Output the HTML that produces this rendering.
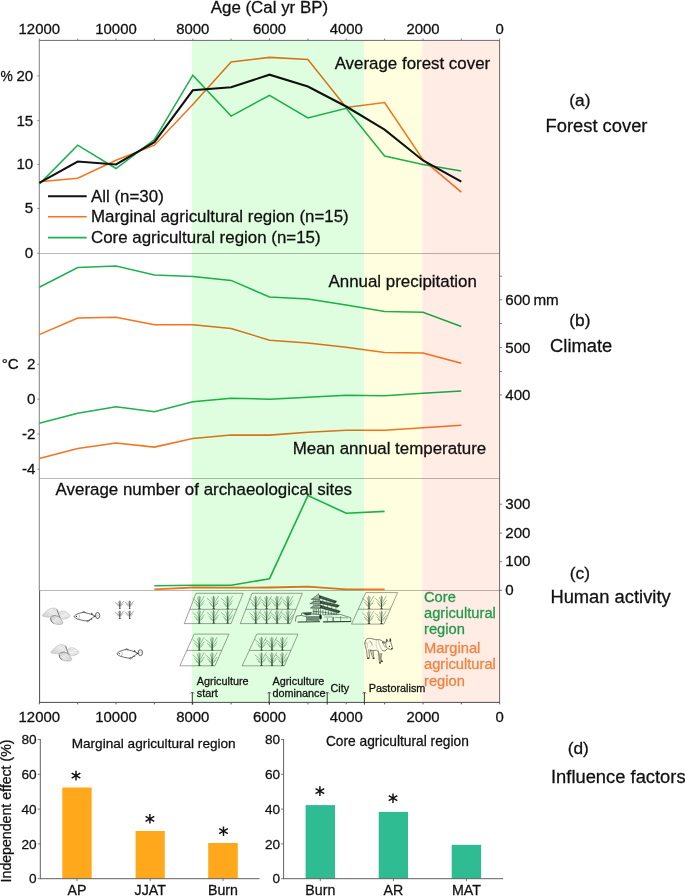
<!DOCTYPE html>
<html><head><meta charset="utf-8"><title>Figure</title>
<style>
html,body{margin:0;padding:0;background:#fff;}
body{width:685px;height:896px;overflow:hidden;}
svg{display:block;will-change:transform;}
text{font-family:"Liberation Sans",sans-serif;fill:#111;stroke:#111;stroke-width:0.28px;}
</style></head><body>
<svg width="685" height="896" viewBox="0 0 685 896">
<rect width="685" height="896" fill="#fff"/>

<!--BANDS_BG-->
<line x1="39.3" x2="499.7" y1="253.5" y2="253.5" stroke="#b8b8b8" stroke-width="1"/>
<line x1="39.3" x2="499.7" y1="478.5" y2="478.5" stroke="#b8b8b8" stroke-width="1"/>
<line x1="39.3" x2="499.7" y1="590.5" y2="590.5" stroke="#b8b8b8" stroke-width="1"/>
<line x1="39" x2="500" y1="40.4" y2="40.4" stroke="#6c6c6c" stroke-width="1"/>
<line x1="39" x2="500" y1="702.4" y2="702.4" stroke="#4c4c4c" stroke-width="1"/>
<line x1="39.3" x2="39.3" y1="40" y2="590.5" stroke="#8a8a8a" stroke-width="1.1"/>
<line x1="39.6" x2="39.6" y1="590.5" y2="703" stroke="#4c4c4c" stroke-width="1"/>
<line x1="499.6" x2="499.6" y1="40" y2="703" stroke="#666" stroke-width="0.95"/>
<line x1="499.7" x2="499.7" y1="38.6" y2="40" stroke="#6c6c6c" stroke-width="0.9"/>
<line x1="499.7" x2="499.7" y1="702.9" y2="704.4" stroke="#4c4c4c" stroke-width="0.9"/>
<text x="499.7" y="34.4" font-size="14.9" text-anchor="middle">0</text>
<text x="499.7" y="722.0" font-size="14.9" text-anchor="middle">0</text>
<line x1="461.3" x2="461.3" y1="38.6" y2="40" stroke="#6c6c6c" stroke-width="0.9"/>
<line x1="461.3" x2="461.3" y1="702.9" y2="704.4" stroke="#4c4c4c" stroke-width="0.9"/>
<line x1="423.0" x2="423.0" y1="38.6" y2="40" stroke="#6c6c6c" stroke-width="0.9"/>
<line x1="423.0" x2="423.0" y1="702.9" y2="704.4" stroke="#4c4c4c" stroke-width="0.9"/>
<text x="423.0" y="34.4" font-size="14.9" text-anchor="middle">2000</text>
<text x="423.0" y="722.0" font-size="14.9" text-anchor="middle">2000</text>
<line x1="384.6" x2="384.6" y1="38.6" y2="40" stroke="#6c6c6c" stroke-width="0.9"/>
<line x1="384.6" x2="384.6" y1="702.9" y2="704.4" stroke="#4c4c4c" stroke-width="0.9"/>
<line x1="346.2" x2="346.2" y1="38.6" y2="40" stroke="#6c6c6c" stroke-width="0.9"/>
<line x1="346.2" x2="346.2" y1="702.9" y2="704.4" stroke="#4c4c4c" stroke-width="0.9"/>
<text x="346.2" y="34.4" font-size="14.9" text-anchor="middle">4000</text>
<text x="346.2" y="722.0" font-size="14.9" text-anchor="middle">4000</text>
<line x1="307.9" x2="307.9" y1="38.6" y2="40" stroke="#6c6c6c" stroke-width="0.9"/>
<line x1="307.9" x2="307.9" y1="702.9" y2="704.4" stroke="#4c4c4c" stroke-width="0.9"/>
<line x1="269.5" x2="269.5" y1="38.6" y2="40" stroke="#6c6c6c" stroke-width="0.9"/>
<line x1="269.5" x2="269.5" y1="702.9" y2="704.4" stroke="#4c4c4c" stroke-width="0.9"/>
<text x="269.5" y="34.4" font-size="14.9" text-anchor="middle">6000</text>
<text x="269.5" y="722.0" font-size="14.9" text-anchor="middle">6000</text>
<line x1="231.1" x2="231.1" y1="38.6" y2="40" stroke="#6c6c6c" stroke-width="0.9"/>
<line x1="231.1" x2="231.1" y1="702.9" y2="704.4" stroke="#4c4c4c" stroke-width="0.9"/>
<line x1="192.8" x2="192.8" y1="38.6" y2="40" stroke="#6c6c6c" stroke-width="0.9"/>
<line x1="192.8" x2="192.8" y1="702.9" y2="704.4" stroke="#4c4c4c" stroke-width="0.9"/>
<text x="192.8" y="34.4" font-size="14.9" text-anchor="middle">8000</text>
<text x="192.8" y="722.0" font-size="14.9" text-anchor="middle">8000</text>
<line x1="154.4" x2="154.4" y1="38.6" y2="40" stroke="#6c6c6c" stroke-width="0.9"/>
<line x1="154.4" x2="154.4" y1="702.9" y2="704.4" stroke="#4c4c4c" stroke-width="0.9"/>
<line x1="116.0" x2="116.0" y1="38.6" y2="40" stroke="#6c6c6c" stroke-width="0.9"/>
<line x1="116.0" x2="116.0" y1="702.9" y2="704.4" stroke="#4c4c4c" stroke-width="0.9"/>
<text x="116.0" y="34.4" font-size="14.9" text-anchor="middle">10000</text>
<text x="116.0" y="722.0" font-size="14.9" text-anchor="middle">10000</text>
<line x1="77.7" x2="77.7" y1="38.6" y2="40" stroke="#6c6c6c" stroke-width="0.9"/>
<line x1="77.7" x2="77.7" y1="702.9" y2="704.4" stroke="#4c4c4c" stroke-width="0.9"/>
<line x1="39.3" x2="39.3" y1="38.6" y2="40" stroke="#6c6c6c" stroke-width="0.9"/>
<line x1="39.3" x2="39.3" y1="702.9" y2="704.4" stroke="#4c4c4c" stroke-width="0.9"/>
<text x="39.3" y="34.4" font-size="14.9" text-anchor="middle">12000</text>
<text x="39.3" y="722.0" font-size="14.9" text-anchor="middle">12000</text>
<text x="269.4" y="12.8" font-size="16.9" text-anchor="middle">Age (Cal yr BP)</text>
<line x1="37.4" x2="39.3" y1="75.9" y2="75.9" stroke="#777" stroke-width="0.9"/>
<text x="33.2" y="80.8" font-size="15.1" text-anchor="end">20</text>
<line x1="37.4" x2="39.3" y1="120.7" y2="120.7" stroke="#777" stroke-width="0.9"/>
<text x="33.2" y="125.6" font-size="15.1" text-anchor="end">15</text>
<line x1="37.4" x2="39.3" y1="164.4" y2="164.4" stroke="#777" stroke-width="0.9"/>
<text x="33.2" y="169.3" font-size="15.1" text-anchor="end">10</text>
<line x1="37.4" x2="39.3" y1="208.5" y2="208.5" stroke="#777" stroke-width="0.9"/>
<text x="33.2" y="213.4" font-size="15.1" text-anchor="end">5</text>
<line x1="37.4" x2="39.3" y1="253.2" y2="253.2" stroke="#777" stroke-width="0.9"/>
<text x="33.2" y="258.1" font-size="15.1" text-anchor="end">0</text>
<text x="0.5" y="80.9" font-size="13.8">%</text>
<line x1="37.4" x2="39.3" y1="364.3" y2="364.3" stroke="#777" stroke-width="0.9"/>
<text x="35.5" y="368.6" font-size="15.1" text-anchor="end">2</text>
<line x1="37.4" x2="39.3" y1="399.2" y2="399.2" stroke="#777" stroke-width="0.9"/>
<text x="35.5" y="404.4" font-size="15.1" text-anchor="end">0</text>
<line x1="37.4" x2="39.3" y1="434.1" y2="434.1" stroke="#777" stroke-width="0.9"/>
<text x="35.5" y="439.3" font-size="15.1" text-anchor="end">-2</text>
<line x1="37.4" x2="39.3" y1="469.2" y2="469.2" stroke="#777" stroke-width="0.9"/>
<text x="35.5" y="474.4" font-size="15.1" text-anchor="end">-4</text>
<text x="1.8" y="368.6" font-size="15.1">°C</text>
<line x1="499.7" x2="502.09999999999997" y1="276.2" y2="276.2" stroke="#606060" stroke-width="0.8"/>
<line x1="499.7" x2="502.09999999999997" y1="299.8" y2="299.8" stroke="#606060" stroke-width="0.8"/>
<line x1="499.7" x2="502.09999999999997" y1="323.5" y2="323.5" stroke="#606060" stroke-width="0.8"/>
<line x1="499.7" x2="502.09999999999997" y1="347.5" y2="347.5" stroke="#606060" stroke-width="0.8"/>
<line x1="499.7" x2="502.09999999999997" y1="371.5" y2="371.5" stroke="#606060" stroke-width="0.8"/>
<line x1="499.7" x2="502.09999999999997" y1="394.9" y2="394.9" stroke="#606060" stroke-width="0.8"/>
<text x="505.3" y="304.8" font-size="15.1">600</text>
<text x="505.3" y="352.5" font-size="15.1">500</text>
<text x="505.3" y="399.6" font-size="15.1">400</text>
<text x="533.4" y="304.6" font-size="15.2">mm</text>
<line x1="499.7" x2="502.09999999999997" y1="504.2" y2="504.2" stroke="#606060" stroke-width="0.8"/>
<text x="505.3" y="508.6" font-size="15.1">300</text>
<line x1="499.7" x2="502.09999999999997" y1="533.0999999999999" y2="533.0999999999999" stroke="#606060" stroke-width="0.8"/>
<text x="505.3" y="537.5" font-size="15.1">200</text>
<line x1="499.7" x2="502.09999999999997" y1="561.6999999999999" y2="561.6999999999999" stroke="#606060" stroke-width="0.8"/>
<text x="505.3" y="566.1" font-size="15.1">100</text>
<line x1="499.7" x2="502.09999999999997" y1="590.3" y2="590.3" stroke="#606060" stroke-width="0.8"/>
<text x="505.3" y="594.7" font-size="15.1">0</text>
<polyline points="39.3,181.8 77.7,178.3 116.0,160.3 154.4,145.2 192.8,104.5 231.1,62.1 269.5,57.4 307.9,59.4 346.2,107.5 384.6,102.5 423.0,159.8 461.3,192.1" fill="none" stroke="#f5741d" stroke-width="1.55" stroke-linejoin="miter" stroke-linecap="butt" />
<polyline points="39.3,184.1 77.7,145.2 116.0,168.5 154.4,139.7 192.8,75.2 231.1,116.1 269.5,95.3 307.9,117.9 346.2,108.3 384.6,156.0 423.0,164.6 461.3,171.1" fill="none" stroke="#1db14f" stroke-width="1.55" stroke-linejoin="miter" stroke-linecap="butt" />
<polyline points="39.3,182.9 77.7,161.5 116.0,164.5 154.4,142.2 192.8,90.3 231.1,87.2 269.5,74.7 307.9,86.5 346.2,106.5 384.6,129.6 423.0,160.5 461.3,181.6" fill="none" stroke="#111" stroke-width="2.05" stroke-linejoin="miter" stroke-linecap="butt" />
<line x1="48.0" x2="86.7" y1="196.2" y2="196.2" stroke="#111" stroke-width="2.05"/>
<text x="91.0" y="201.8" font-size="16.9">All (n=30)</text>
<line x1="48.0" x2="86.7" y1="216.8" y2="216.8" stroke="#f5741d" stroke-width="1.55"/>
<text x="91.0" y="222.4" font-size="16.9">Marginal agricultural region (n=15)</text>
<line x1="48.0" x2="86.7" y1="237.6" y2="237.6" stroke="#1db14f" stroke-width="1.55"/>
<text x="91.0" y="243.2" font-size="16.9">Core agricultural region (n=15)</text>
<text x="490.2" y="68.8" font-size="16.9" text-anchor="end">Average forest cover</text>
<polyline points="39.3,287.2 77.7,267.6 116.0,266.1 154.4,275.1 192.8,276.6 231.1,280.4 269.5,297.0 307.9,299.0 346.2,305.0 384.6,311.5 423.0,312.3 461.3,326.6" fill="none" stroke="#1db14f" stroke-width="1.55" stroke-linejoin="miter" stroke-linecap="butt" />
<polyline points="39.3,334.6 77.7,318.1 116.0,317.3 154.4,324.8 192.8,324.8 231.1,328.4 269.5,340.2 307.9,342.9 346.2,347.3 384.6,352.5 423.0,353.0 461.3,363.3" fill="none" stroke="#f5741d" stroke-width="1.55" stroke-linejoin="miter" stroke-linecap="butt" />
<polyline points="39.3,423.3 77.7,413.2 116.0,406.7 154.4,411.7 192.8,401.7 231.1,398.2 269.5,399.2 307.9,397.2 346.2,395.2 384.6,395.7 423.0,393.2 461.3,390.9" fill="none" stroke="#1db14f" stroke-width="1.55" stroke-linejoin="miter" stroke-linecap="butt" />
<polyline points="39.3,458.4 77.7,448.4 116.0,443.1 154.4,447.1 192.8,438.6 231.1,435.1 269.5,435.1 307.9,432.3 346.2,430.3 384.6,430.3 423.0,427.8 461.3,425.3" fill="none" stroke="#f5741d" stroke-width="1.55" stroke-linejoin="miter" stroke-linecap="butt" />
<text x="476.9" y="286.5" font-size="16.9" text-anchor="end">Annual precipitation</text>
<text x="486.2" y="454.3" font-size="16.9" text-anchor="end">Mean annual temperature</text>
<polyline points="154.4,589.3 192.8,587.5 231.1,587.7 269.5,587.5 307.9,586.7 346.2,589.3 384.6,589.3" fill="none" stroke="#f5741d" stroke-width="1.8" stroke-linejoin="miter" stroke-linecap="butt" />
<polyline points="154.4,585.7 192.8,585.2 231.1,585.2 269.5,578.7 307.9,495.6 346.2,513.2 384.6,511.4" fill="none" stroke="#1db14f" stroke-width="1.6" stroke-linejoin="miter" stroke-linecap="butt" />
<text x="55.6" y="495.2" font-size="16.9">Average number of archaeological sites</text>
<rect x="191.8" y="41.0" width="172.2" height="661.0" fill="#dffedf" style="mix-blend-mode:multiply"/>
<rect x="364.0" y="41.0" width="58.3" height="661.0" fill="#ffffe0" style="mix-blend-mode:multiply"/>
<rect x="422.3" y="41.0" width="77.4" height="661.0" fill="#ffece5" style="mix-blend-mode:multiply"/>
<defs>
<g id="rice" fill="none" stroke="#3d6044" stroke-width="0.45" stroke-linecap="round">
<path d="M0 0 L-0.2 -12.4" stroke-width="0.65" stroke="#2c5233"/>
<path d="M0 0 L0 -5" stroke-width="0.9" stroke="#2c5233"/>
<path d="M0 -4.5 Q2.6 -8.5 4.7 -12.3"/><path d="M0 -2.6 Q2.6 -5.4 4.8 -7.9"/><path d="M0 -1.3 L3.8 -5.2"/>
<path d="M0 -4.5 Q-3.4 -7.8 -6.4 -10.2"/><path d="M0 -2.3 Q-2.5 -4.6 -4.7 -6.3"/><path d="M0 -1.2 L-3.2 -4.0"/>
<path d="M0 -4.5 L1.1 -11.5"/><path d="M0 -5 L-1.9 -11.0"/>
<ellipse cx="0" cy="0.15" rx="1.5" ry="0.5" fill="#2c5233" stroke="none"/>
</g>
<g id="wild" fill="none" stroke="#505050" stroke-width="0.45" stroke-linecap="round">
<path d="M0 0 L0 -7.4" stroke-width="0.8" stroke="#3a3a3a"/>
<path d="M0 -2.8 L3.9 -7.3"/><path d="M0 -1.8 L3.2 -4.8"/>
<path d="M0 -2.8 L-4.6 -6.2"/><path d="M0 -1.6 L-3.0 -4.0"/>
<path d="M0 -3 L0.9 -7.0"/><path d="M0 -3 L-1.5 -6.8"/>
<ellipse cx="0" cy="0.1" rx="1.2" ry="0.45" fill="#3a3a3a" stroke="none"/>
</g>
<linearGradient id="sg1" x1="0" y1="1" x2="1" y2="0"><stop offset="0" stop-color="#cfcfcf"/><stop offset="0.6" stop-color="#f3f3f3"/><stop offset="1" stop-color="#e2e2e2"/></linearGradient>
<linearGradient id="sg2" x1="0" y1="0" x2="1" y2="1"><stop offset="0" stop-color="#dedede"/><stop offset="0.5" stop-color="#f6f6f6"/><stop offset="1" stop-color="#d4d4d4"/></linearGradient>
<linearGradient id="sg3" x1="0" y1="0" x2="1" y2="1"><stop offset="0" stop-color="#bdbdbd"/><stop offset="0.45" stop-color="#efefef"/><stop offset="1" stop-color="#d0d0d0"/></linearGradient>
<g id="shells"><path d="M42.44 615.81 C42.23 615.14 43.62 613.88 44.50 612.92 C45.37 611.96 46.53 610.81 47.71 610.03 C48.88 609.25 50.22 608.50 51.56 608.23 C52.90 607.96 54.69 608.07 55.74 608.42 C56.78 608.78 57.59 609.55 57.85 610.35 C58.12 611.15 57.85 612.33 57.34 613.24 C56.83 614.15 55.95 615.17 54.77 615.81 C53.59 616.45 51.77 616.91 50.28 617.09 C48.78 617.28 47.09 617.11 45.78 616.90 C44.47 616.69 42.65 616.47 42.44 615.81Z" fill="url(#sg1)" stroke="#9c9c9c" stroke-width="0.4"/><path d="M43.85 615.17 L54.77 608.94" stroke="#bdbdbd" stroke-width="0.35" fill="none"/><path d="M46.10 616.26 L56.83 609.84" stroke="#bdbdbd" stroke-width="0.35" fill="none"/><path d="M49.63 616.64 L57.47 611.63" stroke="#bdbdbd" stroke-width="0.35" fill="none"/><path d="M43.34 614.20 L50.92 608.74" stroke="#bdbdbd" stroke-width="0.35" fill="none"/><path d="M58.75 613.24 C59.08 612.49 60.20 611.63 61.19 611.31 C62.19 610.99 63.55 610.99 64.73 611.31 C65.90 611.63 67.35 612.49 68.26 613.24 C69.17 613.99 70.29 615.01 70.19 615.81 C70.08 616.61 68.69 617.49 67.62 618.06 C66.55 618.62 64.94 619.16 63.76 619.21 C62.59 619.27 61.30 618.94 60.55 618.38 C59.80 617.81 59.57 616.66 59.27 615.81 C58.97 614.95 58.43 613.99 58.75 613.24Z" fill="url(#sg2)" stroke="#a2a2a2" stroke-width="0.4"/><path d="M59.59 614.85 L69.22 614.85" stroke="#c4c4c4" stroke-width="0.35" fill="none"/><path d="M59.59 616.45 L68.26 617.41" stroke="#c4c4c4" stroke-width="0.35" fill="none"/><path d="M59.91 613.56 L67.30 612.79" stroke="#c4c4c4" stroke-width="0.35" fill="none"/><path d="M60.55 617.74 L65.69 618.70" stroke="#c4c4c4" stroke-width="0.35" fill="none"/><path d="M50.28 618.06 C50.33 617.09 51.03 616.56 51.88 616.13 C52.74 615.70 54.18 615.33 55.41 615.49 C56.65 615.65 58.14 616.24 59.27 617.09 C60.39 617.95 61.57 619.56 62.16 620.63 C62.75 621.70 63.28 622.87 62.80 623.52 C62.32 624.16 60.61 624.43 59.27 624.48 C57.93 624.53 56.06 624.27 54.77 623.84 C53.49 623.41 52.31 622.87 51.56 621.91 C50.81 620.95 50.22 619.02 50.28 618.06Z" fill="url(#sg3)" stroke="#8e8e8e" stroke-width="0.45"/><path d="M52.85 616.45 L61.52 623.19" stroke="#b4b4b4" stroke-width="0.35" fill="none"/><path d="M54.77 615.81 L62.35 621.27" stroke="#b4b4b4" stroke-width="0.35" fill="none"/><path d="M51.56 617.74 L59.27 624.16" stroke="#b4b4b4" stroke-width="0.35" fill="none"/><path d="M50.92 619.66 L56.06 623.84" stroke="#b4b4b4" stroke-width="0.35" fill="none"/><path d="M57.02 609.58 C57.22 610.14 57.87 611.77 58.24 612.92 C58.61 614.06 58.86 615.57 59.27 616.45 C59.67 617.33 60.45 617.90 60.68 618.18" stroke="#4e4e4e" stroke-width="0.7" fill="none"/><path d="M50.66 618.18 C50.77 618.66 50.81 620.15 51.30 621.01 C51.80 621.87 53.23 622.94 53.62 623.32" stroke="#5a5a5a" stroke-width="0.7" fill="none"/><path d="M51.82 616.39 C52.42 616.24 54.22 615.40 55.41 615.49 C56.61 615.57 58.41 616.66 59.01 616.90" stroke="#777" stroke-width="0.5" fill="none"/></g>
<g id="fish"><path d="M81.85 612.79 L83.39 611.46 L85.33 612.18 L85.94 613.10" fill="#cfcfcf" stroke="#262626" stroke-width="0.5" stroke-linejoin="round"/><path d="M86.15 620.66 L87.63 621.83 L89.72 620.45 L88.80 619.84Z" fill="#e2e2e2" stroke="#262626" stroke-width="0.5" stroke-linejoin="round"/><path d="M74.09 616.67 C74.05 616.25 74.60 615.77 75.11 615.34 C75.62 614.92 76.30 614.50 77.15 614.12 C78.01 613.73 79.16 613.33 80.22 613.04 C81.28 612.76 82.43 612.42 83.54 612.43 C84.65 612.44 85.71 612.82 86.86 613.10 C88.01 613.37 89.42 613.73 90.44 614.07 C91.46 614.41 92.30 614.79 92.99 615.14 C93.69 615.49 94.67 615.74 94.63 616.16 C94.59 616.59 93.44 617.17 92.74 617.69 C92.04 618.22 91.42 618.80 90.44 619.33 C89.46 619.86 88.23 620.71 86.86 620.86 C85.50 621.02 83.71 620.52 82.26 620.25 C80.82 619.98 79.33 619.62 78.18 619.23 C77.03 618.84 76.05 618.32 75.37 617.90 C74.68 617.47 74.13 617.10 74.09 616.67Z" fill="#fff" stroke="#262626" stroke-width="0.68"/><ellipse cx="97.59" cy="615.50" rx="2.15" ry="3.0" fill="#f6f6f6" stroke="#262626" stroke-width="0.68"/><path d="M95.80 615.85 C96.10 615.77 97.00 615.49 97.59 615.34 C98.19 615.20 99.08 615.05 99.38 614.99" fill="none" stroke="#888" stroke-width="0.35"/><path d="M90.95 614.07 L91.97 613.10 L92.59 614.53Z" fill="#262626" stroke="#262626" stroke-width="0.4"/><path d="M90.59 619.23 L91.46 618.51 L91.97 619.33Z" fill="#262626" stroke="#262626" stroke-width="0.4"/><path d="M94.02 615.65 L95.45 616.16 L94.12 616.77Z" fill="#262626" stroke="#262626" stroke-width="0.4"/><circle cx="76.39" cy="616.42" r="0.62" fill="#111"/><path d="M78.58 614.48 C78.74 614.82 79.52 615.80 79.50 616.52 C79.49 617.24 78.65 618.44 78.48 618.82" fill="none" stroke="#666" stroke-width="0.45"/></g>
</defs>
<use href="#shells"/>
<use href="#shells" transform="translate(8.6,36.6)"/>
<use href="#fish"/>
<use href="#fish" transform="translate(42.8,37.2)"/>
<use href="#wild" x="119.8" y="608.5"/>
<use href="#wild" x="119.8" y="618.4"/>
<use href="#wild" x="129.7" y="608.5"/>
<use href="#wild" x="129.7" y="618.4"/>
<polygon points="196.0,593.3 243.1,593.3 231.1,623.6 184.3,623.6" fill="none" stroke="#4c4c4c" stroke-width="0.52"/><line x1="189.8" y1="609.3" x2="236.8" y2="609.3" stroke="#4c4c4c" stroke-width="0.52"/><use href="#rice" x="199.3" y="608.7"/><use href="#rice" x="213.7" y="608.7"/><use href="#rice" x="227.7" y="608.7"/><use href="#rice" x="199.3" y="622.9"/><use href="#rice" x="213.7" y="622.9"/><use href="#rice" x="227.7" y="622.9"/>
<polygon points="252.0,593.3 302.3,593.3 290.4,623.6 240.3,623.6" fill="none" stroke="#4c4c4c" stroke-width="0.52"/><line x1="245.8" y1="609.3" x2="296.0" y2="609.3" stroke="#4c4c4c" stroke-width="0.52"/><use href="#rice" x="255.8" y="608.7"/><use href="#rice" x="266.6" y="608.7"/><use href="#rice" x="277.1" y="608.7"/><use href="#rice" x="288.1" y="608.7"/><use href="#rice" x="255.8" y="622.9"/><use href="#rice" x="266.6" y="622.9"/><use href="#rice" x="277.1" y="622.9"/><use href="#rice" x="288.1" y="622.9"/>
<polygon points="194.1,634.1 228.9,634.1 215.0,665.8 179.9,665.8" fill="none" stroke="#4c4c4c" stroke-width="0.52"/><line x1="186.8" y1="650.4" x2="221.8" y2="650.4" stroke="#4c4c4c" stroke-width="0.52"/><use href="#rice" x="199.3" y="649.8"/><use href="#rice" x="212.2" y="649.8"/><use href="#rice" x="199.3" y="665.2"/><use href="#rice" x="212.2" y="665.2"/>
<polygon points="256.8,634.1 298.0,634.1 284.3,665.8 242.2,665.8" fill="none" stroke="#4c4c4c" stroke-width="0.52"/><line x1="249.3" y1="650.4" x2="291.0" y2="650.4" stroke="#4c4c4c" stroke-width="0.52"/><use href="#rice" x="261.5" y="649.8"/><use href="#rice" x="272.0" y="649.8"/><use href="#rice" x="282.4" y="649.8"/><use href="#rice" x="261.5" y="665.2"/><use href="#rice" x="272.0" y="665.2"/><use href="#rice" x="282.4" y="665.2"/>
<polygon points="365.8,592.6 397.6,592.6 383.9,624.1 351.5,624.1" fill="none" stroke="#4c4c4c" stroke-width="0.52"/><line x1="358.3" y1="609.2" x2="390.4" y2="609.2" stroke="#4c4c4c" stroke-width="0.52"/><use href="#rice" x="369.0" y="608.5"/><use href="#rice" x="381.5" y="608.5"/><use href="#rice" x="369.0" y="623.4"/><use href="#rice" x="381.5" y="623.4"/>
<g id="temple"><path d="M295.27 621.59 L296.30 616.17 L301.35 615.42 L306.49 616.73 L306.49 621.78" fill="none" fill-opacity="1" stroke="#12281a" stroke-width="0.55" stroke-linejoin="round"/><path d="M301.35 615.42 L301.72 612.99 L311.63 612.43 L312.19 614.86" fill="none" fill-opacity="1" stroke="#12281a" stroke-width="0.55" stroke-linejoin="round"/><path d="M303.21 613.18 L310.69 612.99 L311.16 614.49 L306.02 615.23Z" fill="#12281a" fill-opacity="0.8" stroke="#12281a" stroke-width="0.4" stroke-linejoin="round"/><path d="M307.14 617.29 L319.29 617.48" fill="none" fill-opacity="1" stroke="#12281a" stroke-width="0.5" stroke-linejoin="round"/><path d="M307.14 618.04 L319.29 618.22" fill="none" fill-opacity="1" stroke="#12281a" stroke-width="0.5" stroke-linejoin="round"/><path d="M307.14 618.79 L319.29 618.97" fill="none" fill-opacity="1" stroke="#12281a" stroke-width="0.5" stroke-linejoin="round"/><path d="M307.14 619.53 L319.29 619.72" fill="none" fill-opacity="1" stroke="#12281a" stroke-width="0.5" stroke-linejoin="round"/><path d="M307.14 620.28 L319.29 620.47" fill="none" fill-opacity="1" stroke="#12281a" stroke-width="0.5" stroke-linejoin="round"/><path d="M306.49 616.73 L320.04 616.36" fill="none" fill-opacity="1" stroke="#12281a" stroke-width="0.5" stroke-linejoin="round"/><ellipse cx="320.50" cy="616.92" rx="1.3" ry="2.7" fill="#12281a"/><path d="M322.84 614.86 L340.60 614.49 L350.88 617.85 L350.69 621.59 L322.84 621.78" fill="none" fill-opacity="1" stroke="#12281a" stroke-width="0.5" stroke-linejoin="round"/><path d="M333.12 616.92 L333.12 621.40" fill="none" fill-opacity="1" stroke="#12281a" stroke-width="0.9" stroke-linejoin="round"/><path d="M324.24 617.10 L332.19 616.92" fill="none" fill-opacity="1" stroke="#12281a" stroke-width="0.4" stroke-linejoin="round"/><path d="M334.52 617.29 L348.07 618.04" fill="none" fill-opacity="1" stroke="#12281a" stroke-width="0.4" stroke-linejoin="round"/><path d="M327.51 618.04 L327.51 621.40" fill="none" fill-opacity="1" stroke="#12281a" stroke-width="0.4" stroke-linejoin="round"/><path d="M340.60 616.17 L340.60 621.40" fill="none" fill-opacity="1" stroke="#12281a" stroke-width="0.4" stroke-linejoin="round"/><path d="M297.61 622.06 L320.04 621.68" fill="none" fill-opacity="1" stroke="#12281a" stroke-width="0.9" stroke-linejoin="round"/><path d="M323.31 621.96 L350.88 621.50" fill="none" fill-opacity="1" stroke="#12281a" stroke-width="0.8" stroke-linejoin="round"/><path d="M318.45 594.21 L311.44 599.35 L319.85 599.72 L319.29 595.42Z" fill="#bcd6be" fill-opacity="1" stroke="#12281a" stroke-width="0.55" stroke-linejoin="round"/><path d="M319.29 595.42 L335.93 601.03 L336.30 601.96 L334.80 602.90 L319.85 598.04Z" fill="#12281a" fill-opacity="0.9" stroke="#12281a" stroke-width="0.45" stroke-linejoin="round"/><path d="M313.31 601.59 L310.22 603.64 L320.22 604.02 L320.60 601.03Z" fill="#bcd6be" fill-opacity="1" stroke="#12281a" stroke-width="0.55" stroke-linejoin="round"/><path d="M320.60 601.03 L338.36 604.95 L338.92 606.07 L337.42 607.20 L320.22 603.27Z" fill="#12281a" fill-opacity="0.9" stroke="#12281a" stroke-width="0.45" stroke-linejoin="round"/><path d="M313.31 606.07 L310.69 608.04 L320.60 608.50 L320.97 605.51Z" fill="#bcd6be" fill-opacity="1" stroke="#12281a" stroke-width="0.55" stroke-linejoin="round"/><path d="M320.97 605.51 L339.29 610.75 L339.85 611.87 L338.36 612.99 L320.60 607.94Z" fill="#12281a" fill-opacity="0.9" stroke="#12281a" stroke-width="0.45" stroke-linejoin="round"/><path d="M321.16 597.10 L334.52 601.59" fill="none" fill-opacity="1" stroke="#b5d2b8" stroke-width="0.3" stroke-linejoin="round"/><path d="M321.72 602.34 L337.05 605.89" fill="none" fill-opacity="1" stroke="#b5d2b8" stroke-width="0.3" stroke-linejoin="round"/><path d="M322.09 607.01 L337.98 611.68" fill="none" fill-opacity="1" stroke="#b5d2b8" stroke-width="0.3" stroke-linejoin="round"/><path d="M322.84 599.16 L322.84 601.59" fill="none" fill-opacity="1" stroke="#12281a" stroke-width="0.4" stroke-linejoin="round"/><path d="M326.58 600.28 L326.58 602.34" fill="none" fill-opacity="1" stroke="#12281a" stroke-width="0.4" stroke-linejoin="round"/><path d="M330.32 601.59 L330.32 603.27" fill="none" fill-opacity="1" stroke="#12281a" stroke-width="0.4" stroke-linejoin="round"/><path d="M334.06 602.71 L334.06 604.02" fill="none" fill-opacity="1" stroke="#12281a" stroke-width="0.4" stroke-linejoin="round"/><path d="M323.31 604.02 L323.31 606.07" fill="none" fill-opacity="1" stroke="#12281a" stroke-width="0.4" stroke-linejoin="round"/><path d="M327.51 605.14 L327.51 607.38" fill="none" fill-opacity="1" stroke="#12281a" stroke-width="0.4" stroke-linejoin="round"/><path d="M331.72 606.07 L331.72 608.50" fill="none" fill-opacity="1" stroke="#12281a" stroke-width="0.4" stroke-linejoin="round"/><path d="M335.93 607.01 L335.93 609.81" fill="none" fill-opacity="1" stroke="#12281a" stroke-width="0.4" stroke-linejoin="round"/><path d="M315.36 597.01 L319.29 597.48" fill="none" fill-opacity="1" stroke="#12281a" stroke-width="0.35" stroke-linejoin="round"/><path d="M313.31 598.41 L319.66 598.79" fill="none" fill-opacity="1" stroke="#12281a" stroke-width="0.35" stroke-linejoin="round"/><path d="M312.09 602.71 L320.22 603.08" fill="none" fill-opacity="1" stroke="#12281a" stroke-width="0.35" stroke-linejoin="round"/><path d="M312.09 607.20 L320.60 607.57" fill="none" fill-opacity="1" stroke="#12281a" stroke-width="0.35" stroke-linejoin="round"/><path d="M311.44 599.35 L310.69 598.79" fill="none" fill-opacity="1" stroke="#12281a" stroke-width="0.5" stroke-linejoin="round"/><path d="M335.93 601.40 L336.86 600.84" fill="none" fill-opacity="1" stroke="#12281a" stroke-width="0.5" stroke-linejoin="round"/><path d="M310.22 603.64 L309.48 603.08" fill="none" fill-opacity="1" stroke="#12281a" stroke-width="0.5" stroke-linejoin="round"/><path d="M338.73 605.89 L339.66 605.33" fill="none" fill-opacity="1" stroke="#12281a" stroke-width="0.5" stroke-linejoin="round"/><path d="M310.69 608.04 L309.94 607.48" fill="none" fill-opacity="1" stroke="#12281a" stroke-width="0.5" stroke-linejoin="round"/><path d="M339.66 611.68 L340.60 611.21" fill="none" fill-opacity="1" stroke="#12281a" stroke-width="0.5" stroke-linejoin="round"/><path d="M313.68 600.09 L313.68 601.68" fill="none" fill-opacity="1" stroke="#12281a" stroke-width="0.5" stroke-linejoin="round"/><path d="M315.36 600.09 L315.36 601.68" fill="none" fill-opacity="1" stroke="#12281a" stroke-width="0.5" stroke-linejoin="round"/><path d="M317.05 600.09 L317.05 601.68" fill="none" fill-opacity="1" stroke="#12281a" stroke-width="0.5" stroke-linejoin="round"/><path d="M318.73 600.09 L318.73 601.68" fill="none" fill-opacity="1" stroke="#12281a" stroke-width="0.5" stroke-linejoin="round"/><path d="M320.04 600.09 L320.04 601.68" fill="none" fill-opacity="1" stroke="#12281a" stroke-width="0.5" stroke-linejoin="round"/><path d="M313.68 604.30 L313.68 606.07" fill="none" fill-opacity="1" stroke="#12281a" stroke-width="0.5" stroke-linejoin="round"/><path d="M315.36 604.30 L315.36 606.07" fill="none" fill-opacity="1" stroke="#12281a" stroke-width="0.5" stroke-linejoin="round"/><path d="M317.05 604.30 L317.05 606.07" fill="none" fill-opacity="1" stroke="#12281a" stroke-width="0.5" stroke-linejoin="round"/><path d="M318.73 604.30 L318.73 606.07" fill="none" fill-opacity="1" stroke="#12281a" stroke-width="0.5" stroke-linejoin="round"/><path d="M320.41 604.30 L320.41 606.07" fill="none" fill-opacity="1" stroke="#12281a" stroke-width="0.5" stroke-linejoin="round"/><path d="M313.31 608.79 L313.31 614.11" fill="none" fill-opacity="1" stroke="#12281a" stroke-width="0.5" stroke-linejoin="round"/><path d="M314.99 608.79 L314.99 614.11" fill="none" fill-opacity="1" stroke="#12281a" stroke-width="0.5" stroke-linejoin="round"/><path d="M316.67 608.79 L316.67 614.11" fill="none" fill-opacity="1" stroke="#12281a" stroke-width="0.5" stroke-linejoin="round"/><path d="M318.54 608.79 L318.54 614.11" fill="none" fill-opacity="1" stroke="#12281a" stroke-width="0.5" stroke-linejoin="round"/><path d="M320.41 608.79 L320.41 614.11" fill="none" fill-opacity="1" stroke="#12281a" stroke-width="0.5" stroke-linejoin="round"/><path d="M322.84 609.63 L322.84 614.67" fill="none" fill-opacity="1" stroke="#12281a" stroke-width="0.5" stroke-linejoin="round"/><path d="M325.64 610.37 L325.64 614.67" fill="none" fill-opacity="1" stroke="#12281a" stroke-width="0.5" stroke-linejoin="round"/><path d="M328.45 611.12 L328.45 614.67" fill="none" fill-opacity="1" stroke="#12281a" stroke-width="0.5" stroke-linejoin="round"/><path d="M331.25 611.87 L331.25 614.67" fill="none" fill-opacity="1" stroke="#12281a" stroke-width="0.5" stroke-linejoin="round"/><path d="M334.06 612.43 L334.06 614.67" fill="none" fill-opacity="1" stroke="#12281a" stroke-width="0.5" stroke-linejoin="round"/><path d="M336.67 612.99 L336.67 614.67" fill="none" fill-opacity="1" stroke="#12281a" stroke-width="0.5" stroke-linejoin="round"/><path d="M313.03 611.50 L320.41 611.87 L336.86 614.11" fill="none" fill-opacity="1" stroke="#12281a" stroke-width="0.5" stroke-linejoin="round"/><path d="M312.75 614.11 L320.41 614.49" fill="none" fill-opacity="1" stroke="#12281a" stroke-width="0.6" stroke-linejoin="round"/><path d="M318.45 594.21 L318.45 593.36" fill="none" fill-opacity="1" stroke="#12281a" stroke-width="0.5" stroke-linejoin="round"/></g>
<g id="cow"><path d="M365.66 639.97 C366.26 639.10 367.35 638.64 368.42 638.44 C369.50 638.23 370.88 638.54 372.10 638.74 C373.33 638.95 374.55 639.51 375.78 639.66 C377.01 639.82 378.34 639.41 379.46 639.66 C380.58 639.92 381.35 640.94 382.52 641.20 C383.70 641.45 385.18 641.20 386.51 641.20 C387.84 641.20 389.52 640.28 390.50 641.20 C391.47 642.12 392.18 645.28 392.33 646.71 C392.49 648.15 392.33 649.42 391.42 649.78 C390.50 650.14 388.09 648.66 386.82 648.86 C385.54 649.07 384.67 650.24 383.75 651.01 C382.83 651.77 382.22 653.36 381.30 653.46 C380.38 653.56 379.46 652.13 378.23 651.62 C377.01 651.11 375.27 650.65 373.94 650.39 C372.61 650.14 371.49 650.19 370.26 650.09 C369.04 649.98 367.48 650.85 366.58 649.78 C365.68 648.71 365.02 645.28 364.87 643.65 C364.71 642.01 365.07 640.84 365.66 639.97Z" fill="#fefdea" stroke="none" stroke-width="0" stroke-linecap="round"/><path d="M366.58 649.78 C366.30 650.90 366.89 655.09 367.20 656.52 C367.50 657.96 368.03 658.36 368.42 658.36 C368.81 658.36 369.44 657.96 369.53 656.52 C369.61 655.09 369.40 650.90 368.91 649.78 C368.42 648.66 366.87 648.66 366.58 649.78Z" fill="#fefdea" stroke="none" stroke-width="0" stroke-linecap="round"/><path d="M370.26 650.09 C370.15 651.06 371.82 655.17 372.41 656.52 C373.00 657.88 373.58 658.24 373.82 658.24 C374.05 658.24 373.94 657.78 373.82 656.52 C373.70 655.27 373.68 651.77 373.08 650.70 C372.49 649.63 370.37 649.12 370.26 650.09Z" fill="#fefdea" stroke="none" stroke-width="0" stroke-linecap="round"/><path d="M378.23 651.62 C377.72 652.13 378.62 654.69 378.85 656.52 C379.07 658.36 379.25 661.65 379.58 662.66 C379.91 663.66 380.60 663.35 380.81 662.53 C381.01 661.72 380.62 659.26 380.81 657.75 C380.99 656.24 382.34 654.48 381.91 653.46 C381.48 652.44 378.74 651.11 378.23 651.62Z" fill="#fefdea" stroke="none" stroke-width="0" stroke-linecap="round"/><path d="M364.87 643.65 C365.00 643.04 365.07 640.84 365.66 639.97 C366.26 639.10 367.35 638.64 368.42 638.44 C369.50 638.23 370.88 638.54 372.10 638.74 C373.33 638.95 374.55 639.51 375.78 639.66 C377.01 639.82 378.34 639.41 379.46 639.66 C380.58 639.92 381.61 640.79 382.52 641.20 C383.44 641.61 384.57 641.96 384.98 642.12" fill="none" stroke="#34321f" stroke-width="0.6" stroke-linecap="round"/><path d="M364.87 643.65 C364.99 644.26 365.32 646.20 365.60 647.33 C365.89 648.45 366.32 648.86 366.58 650.39 C366.85 651.93 366.97 655.22 367.20 656.52 C367.42 657.83 367.81 657.96 367.93 658.24" fill="none" stroke="#34321f" stroke-width="0.6" stroke-linecap="round"/><path d="M368.79 649.78 C368.89 650.90 369.34 655.11 369.40 656.52 C369.47 657.94 369.20 657.96 369.16 658.24" fill="none" stroke="#34321f" stroke-width="0.6" stroke-linecap="round"/><path d="M370.26 650.27 C370.62 651.31 371.90 655.20 372.41 656.52 C372.92 657.85 373.17 657.96 373.33 658.24" fill="none" stroke="#34321f" stroke-width="0.6" stroke-linecap="round"/><path d="M373.08 650.88 C373.18 651.82 373.53 655.32 373.70 656.52 C373.86 657.73 374.00 657.85 374.06 658.12" fill="none" stroke="#34321f" stroke-width="0.6" stroke-linecap="round"/><path d="M370.26 650.09 C370.88 650.16 372.92 650.49 373.94 650.52 C374.96 650.55 375.68 650.09 376.39 650.27 C377.11 650.45 377.93 651.40 378.23 651.62" fill="none" stroke="#34321f" stroke-width="0.6" stroke-linecap="round"/><path d="M378.23 651.62 C378.34 652.44 378.64 654.69 378.85 656.52 C379.05 658.36 379.36 661.63 379.46 662.66" fill="none" stroke="#34321f" stroke-width="0.6" stroke-linecap="round"/><path d="M380.19 653.46 C380.17 654.17 380.03 656.22 380.07 657.75 C380.11 659.28 380.38 661.84 380.44 662.66" fill="none" stroke="#34321f" stroke-width="0.6" stroke-linecap="round"/><path d="M381.79 653.46 C381.67 654.17 381.07 656.48 381.05 657.75 C381.03 659.02 381.56 660.51 381.67 661.06" fill="none" stroke="#34321f" stroke-width="0.6" stroke-linecap="round"/><path d="M382.52 650.39 C382.93 650.50 384.26 651.21 384.98 651.01 C385.69 650.80 386.51 649.47 386.82 649.17" fill="none" stroke="#34321f" stroke-width="0.6" stroke-linecap="round"/><path d="M376.39 639.97 C376.35 640.69 376.05 642.93 376.15 644.26 C376.25 645.59 376.56 646.82 377.01 647.94 C377.46 649.07 378.54 650.50 378.85 651.01" fill="none" stroke="#8a876c" stroke-width="0.35" stroke-linecap="round"/><path d="M369.04 640.58 C369.39 640.89 370.67 641.66 371.18 642.42 C371.69 643.19 371.95 644.72 372.10 645.18" fill="none" stroke="#8a876c" stroke-width="0.35" stroke-linecap="round"/><path d="M367.81 643.04 C368.22 642.83 369.44 641.81 370.26 641.81 C371.08 641.81 372.31 642.83 372.71 643.04" fill="none" stroke="#9a977c" stroke-width="0.3" stroke-linecap="round"/><path d="M365.97 641.81 C366.17 642.22 366.99 643.24 367.20 644.26 C367.40 645.28 367.20 647.33 367.20 647.94" fill="none" stroke="#6d6a52" stroke-width="0.4" stroke-linecap="round"/><path d="M378.23 640.58 C378.44 641.20 379.05 643.04 379.46 644.26 C379.87 645.49 380.28 646.92 380.69 647.94 C381.09 648.96 381.71 649.98 381.91 650.39" fill="none" stroke="#6d6a52" stroke-width="0.4" stroke-linecap="round"/><path d="M382.52 641.81 C382.73 642.32 383.34 643.96 383.75 644.88 C384.16 645.80 384.77 646.92 384.98 647.33" fill="none" stroke="#55523c" stroke-width="0.45" stroke-linecap="round"/><path d="M378.85 652.23 C378.97 652.95 379.50 655.30 379.58 656.52 C379.66 657.75 379.38 659.08 379.34 659.59" fill="none" stroke="#6d6a52" stroke-width="0.4" stroke-linecap="round"/><path d="M371.49 650.39 C371.69 651.01 372.51 653.46 372.71 654.07" fill="none" stroke="#6d6a52" stroke-width="0.35" stroke-linecap="round"/><path d="M370.26 641.20 C370.57 641.71 371.95 643.44 372.10 644.26 C372.26 645.08 371.34 645.80 371.18 646.10" fill="none" stroke="#77745c" stroke-width="0.4" stroke-linecap="round"/><path d="M386.82 641.20 C386.63 641.71 385.71 643.16 385.71 644.26 C385.71 645.37 385.92 646.90 386.82 647.82 C387.72 648.74 390.39 649.45 391.11 649.78" fill="none" stroke="#34321f" stroke-width="0.6" stroke-linecap="round"/><path d="M390.50 641.20 C390.70 641.91 391.35 644.30 391.72 645.49 C392.09 646.67 392.54 647.84 392.70 648.31" fill="none" stroke="#34321f" stroke-width="0.6" stroke-linecap="round"/><path d="M386.82 641.20 C387.12 641.30 388.04 641.81 388.66 641.81 C389.27 641.81 390.19 641.30 390.50 641.20" fill="none" stroke="#34321f" stroke-width="0.4" stroke-linecap="round"/><path d="M386.33 641.20 C386.39 640.87 386.51 639.34 386.69 639.23 C386.88 639.13 387.31 640.36 387.43 640.58" fill="none" stroke="#2a281c" stroke-width="0.9" stroke-linecap="round"/><path d="M389.88 640.89 C389.95 640.51 390.17 638.65 390.31 638.62 C390.45 638.59 390.67 640.36 390.74 640.71" fill="none" stroke="#2a281c" stroke-width="0.9" stroke-linecap="round"/><path d="M382.52 642.42 C382.78 642.53 383.60 642.99 384.06 643.04 C384.52 643.09 385.08 642.78 385.28 642.73" fill="none" stroke="#3a382a" stroke-width="0.9" stroke-linecap="round"/><circle cx="389.39" cy="646.47" r="0.6" fill="#2a281c"/><ellipse cx="391.84" cy="648.80" rx="1.0" ry="0.8" fill="#2a281c"/><ellipse cx="368.18" cy="658.24" rx="1.1" ry="0.7" fill="#2a281c"/><ellipse cx="373.57" cy="658.36" rx="1.1" ry="0.7" fill="#2a281c"/><ellipse cx="380.07" cy="662.90" rx="1.1" ry="0.7" fill="#2a281c"/><ellipse cx="381.91" cy="661.31" rx="1.1" ry="0.7" fill="#2a281c"/></g>
<line x1="192.3" x2="192.3" y1="692.6" y2="704.6" stroke="#222" stroke-width="0.9"/><path d="M190.5 693.4 L191.10000000000002 692.7 L193.5 692.7 L194.10000000000002 693.4" fill="none" stroke="#222" stroke-width="0.7"/>
<line x1="269.2" x2="269.2" y1="692.6" y2="704.6" stroke="#222" stroke-width="0.9"/><path d="M267.4 693.4 L268.0 692.7 L270.4 692.7 L271.0 693.4" fill="none" stroke="#222" stroke-width="0.7"/>
<line x1="327.2" x2="327.2" y1="692.6" y2="704.6" stroke="#222" stroke-width="0.9"/><path d="M325.4 693.4 L326.0 692.7 L328.4 692.7 L329.0 693.4" fill="none" stroke="#222" stroke-width="0.7"/>
<line x1="364.4" x2="364.4" y1="692.6" y2="704.6" stroke="#222" stroke-width="0.9"/><path d="M362.59999999999997 693.4 L363.2 692.7 L365.59999999999997 692.7 L366.2 693.4" fill="none" stroke="#222" stroke-width="0.7"/>
<text x="196.8" y="685.0" font-size="10.85" stroke-width="0.35">Agriculture</text><text x="196.8" y="696.8" font-size="10.85" stroke-width="0.35">start</text>
<text x="272.5" y="685.0" font-size="10.85" stroke-width="0.35">Agriculture</text><text x="272.5" y="696.8" font-size="10.85" stroke-width="0.35">dominance</text>
<text x="330.4" y="692.3" font-size="10.85" stroke-width="0.35">City</text>
<text x="368.7" y="692.3" font-size="10.85" stroke-width="0.35">Pastoralism</text>
<text x="424.0" y="601.9" font-size="14.7" style="fill:#1f9a48;stroke:#1f9a48">Core</text>
<text x="424.0" y="617.9" font-size="14.7" style="fill:#1f9a48;stroke:#1f9a48">agricultural</text>
<text x="424.0" y="633.9" font-size="14.7" style="fill:#1f9a48;stroke:#1f9a48">region</text>
<text x="424.0" y="652.9" font-size="14.7" style="fill:#f0833e;stroke:#f0833e">Marginal</text>
<text x="424.0" y="669.3" font-size="14.7" style="fill:#f0833e;stroke:#f0833e">agricultural</text>
<text x="424.0" y="685.7" font-size="14.7" style="fill:#f0833e;stroke:#f0833e">region</text>
<text x="579.9" y="106.2" font-size="17.3" text-anchor="middle">(a)</text>
<text x="545.5" y="132.0" font-size="18.35">Forest cover</text>
<text x="579.9" y="325.6" font-size="17.3" text-anchor="middle">(b)</text>
<text x="550.1" y="352.0" font-size="18.35">Climate</text>
<text x="579.9" y="578.8" font-size="17.3" text-anchor="middle">(c)</text>
<text x="550.4" y="603.4" font-size="18.35">Human activity</text>
<text x="578.3" y="754.4" font-size="17.3" text-anchor="middle">(d)</text>
<text x="551.0" y="782.8" font-size="18.35">Influence factors</text>
<rect x="62.3" y="787.5" width="29.4" height="91.2" fill="#ffa81c"/>
<rect x="135.6" y="831.0" width="29.2" height="47.7" fill="#ffa81c"/>
<rect x="208.2" y="843.0" width="29.6" height="35.7" fill="#ffa81c"/>
<line x1="40.3" x2="40.3" y1="739.0" y2="879.2" stroke="#606060" stroke-width="1"/>
<line x1="40.3" x2="259.6" y1="878.7" y2="878.7" stroke="#606060" stroke-width="1"/>
<line x1="37.699999999999996" x2="40.3" y1="878.7" y2="878.7" stroke="#606060" stroke-width="0.8"/>
<text x="36.5" y="883.3" font-size="13.6" text-anchor="end">0</text>
<line x1="37.699999999999996" x2="40.3" y1="843.9" y2="843.9" stroke="#606060" stroke-width="0.8"/>
<text x="36.5" y="848.5" font-size="13.6" text-anchor="end">20</text>
<line x1="37.699999999999996" x2="40.3" y1="809.1" y2="809.1" stroke="#606060" stroke-width="0.8"/>
<text x="36.5" y="813.7" font-size="13.6" text-anchor="end">40</text>
<line x1="37.699999999999996" x2="40.3" y1="774.3" y2="774.3" stroke="#606060" stroke-width="0.8"/>
<text x="36.5" y="778.9" font-size="13.6" text-anchor="end">60</text>
<line x1="37.699999999999996" x2="40.3" y1="739.5" y2="739.5" stroke="#606060" stroke-width="0.8"/>
<text x="36.5" y="744.1" font-size="13.6" text-anchor="end">80</text>
<line x1="77.0" x2="77.0" y1="878.7" y2="881.2" stroke="#606060" stroke-width="0.8"/>
<text x="77.0" y="894.9" font-size="14.2" text-anchor="middle">AP</text>
<path d="M76.00 770.82 L76.00 780.42 M71.67 773.12 L80.33 778.12 M71.67 778.12 L80.33 773.12" stroke="#111" stroke-width="1.45" fill="none"/>
<line x1="150.2" x2="150.2" y1="878.7" y2="881.2" stroke="#606060" stroke-width="0.8"/>
<text x="150.2" y="894.9" font-size="14.2" text-anchor="middle">JJAT</text>
<path d="M149.90 814.02 L149.90 823.62 M145.57 816.32 L154.23 821.32 M145.57 821.32 L154.23 816.32" stroke="#111" stroke-width="1.45" fill="none"/>
<line x1="223.0" x2="223.0" y1="878.7" y2="881.2" stroke="#606060" stroke-width="0.8"/>
<text x="223.0" y="894.9" font-size="14.2" text-anchor="middle">Burn</text>
<path d="M223.50 826.43 L223.50 836.03 M219.17 828.73 L227.83 833.73 M219.17 833.73 L227.83 828.73" stroke="#111" stroke-width="1.45" fill="none"/>
<text x="71.7" y="747.6" font-size="13.6" text-anchor="start">Marginal agricultural region</text>
<rect x="305.6" y="805.1" width="29.4" height="73.6" fill="#2fbc93"/>
<rect x="378.7" y="811.9" width="29.3" height="66.8" fill="#2fbc93"/>
<rect x="451.7" y="844.8" width="29.4" height="33.9" fill="#2fbc93"/>
<line x1="283.6" x2="283.6" y1="739.0" y2="879.2" stroke="#606060" stroke-width="1"/>
<line x1="283.6" x2="503.2" y1="878.7" y2="878.7" stroke="#606060" stroke-width="1"/>
<line x1="281.0" x2="283.6" y1="878.7" y2="878.7" stroke="#606060" stroke-width="0.8"/>
<text x="280.0" y="883.3" font-size="13.6" text-anchor="end">0</text>
<line x1="281.0" x2="283.6" y1="843.9" y2="843.9" stroke="#606060" stroke-width="0.8"/>
<text x="280.0" y="848.5" font-size="13.6" text-anchor="end">20</text>
<line x1="281.0" x2="283.6" y1="809.1" y2="809.1" stroke="#606060" stroke-width="0.8"/>
<text x="280.0" y="813.7" font-size="13.6" text-anchor="end">40</text>
<line x1="281.0" x2="283.6" y1="774.3" y2="774.3" stroke="#606060" stroke-width="0.8"/>
<text x="280.0" y="778.9" font-size="13.6" text-anchor="end">60</text>
<line x1="281.0" x2="283.6" y1="739.5" y2="739.5" stroke="#606060" stroke-width="0.8"/>
<text x="280.0" y="744.1" font-size="13.6" text-anchor="end">80</text>
<line x1="320.3" x2="320.3" y1="878.7" y2="881.2" stroke="#606060" stroke-width="0.8"/>
<text x="320.3" y="894.9" font-size="14.2" text-anchor="middle">Burn</text>
<path d="M319.90 786.30 L319.90 795.90 M315.57 788.60 L324.23 793.60 M315.57 793.60 L324.23 788.60" stroke="#111" stroke-width="1.45" fill="none"/>
<line x1="393.4" x2="393.4" y1="878.7" y2="881.2" stroke="#606060" stroke-width="0.8"/>
<text x="393.4" y="894.9" font-size="14.2" text-anchor="middle">AR</text>
<path d="M393.00 793.38 L393.00 802.98 M388.67 795.68 L397.33 800.68 M388.67 800.68 L397.33 795.68" stroke="#111" stroke-width="1.45" fill="none"/>
<line x1="466.4" x2="466.4" y1="878.7" y2="881.2" stroke="#606060" stroke-width="0.8"/>
<text x="466.4" y="894.9" font-size="14.2" text-anchor="middle">MAT</text>
<text x="468.8" y="745.7" font-size="13.75" text-anchor="end">Core agricultural region</text>
<text transform="translate(11.0,882.4) rotate(-90)" font-size="14.15">Independent effect (%)</text>
</svg></body></html>
